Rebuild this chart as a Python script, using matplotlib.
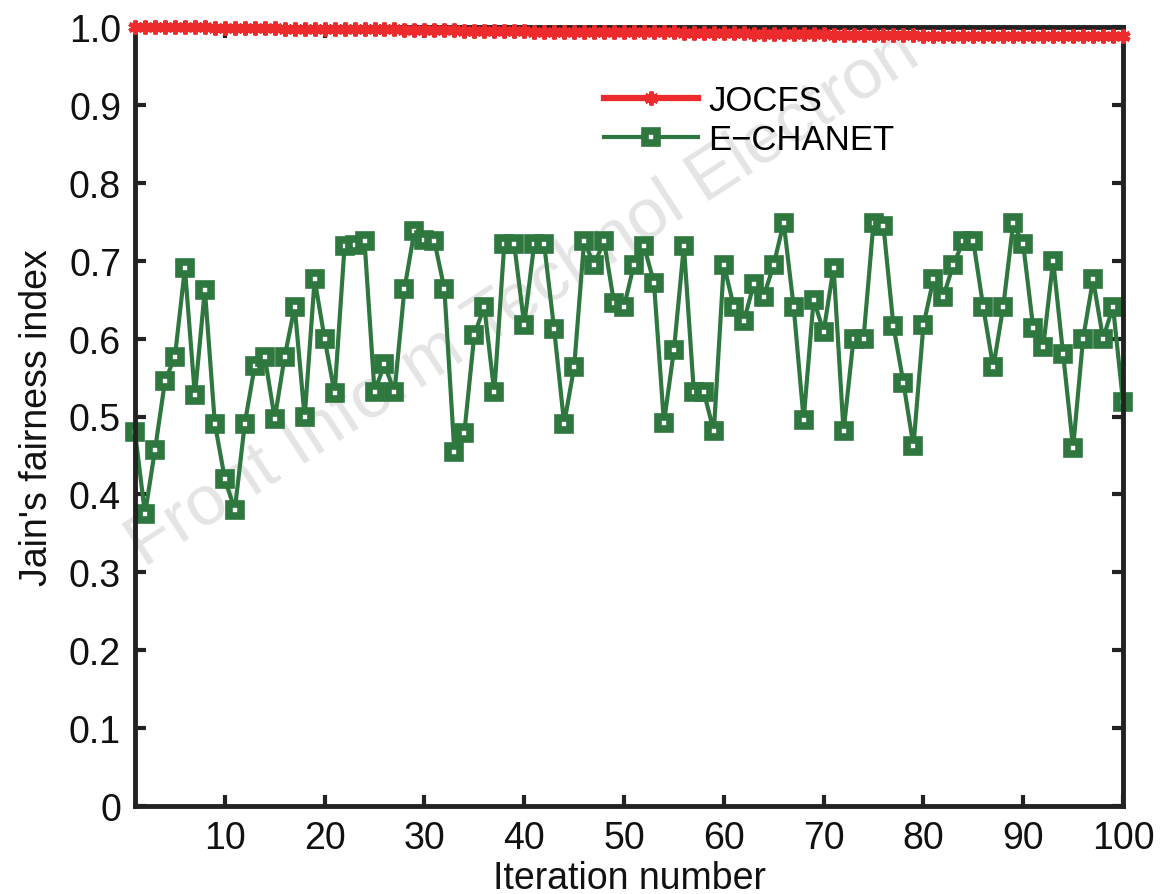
import numpy as np
import matplotlib.pyplot as plt

plt.rcParams['font.family'] = ['Liberation Sans', 'DejaVu Sans']

iterations = np.arange(1, 101)

jocfs = [1.000, 1.000, 1.000, 1.000, 1.000, 1.000, 1.000, 1.000, 0.999, 0.999,
         0.999, 0.999, 0.999, 0.999, 0.999, 0.998, 0.998, 0.998, 0.998, 0.998,
         0.998, 0.997, 0.997, 0.997, 0.997, 0.997, 0.997, 0.996, 0.996, 0.996,
         0.996, 0.996, 0.996, 0.995, 0.995, 0.995, 0.995, 0.995, 0.995, 0.995,
         0.994, 0.994, 0.994, 0.994, 0.994, 0.994, 0.994, 0.993, 0.993, 0.993,
         0.993, 0.993, 0.993, 0.993, 0.993, 0.992, 0.992, 0.992, 0.992, 0.992,
         0.992, 0.992, 0.991, 0.991, 0.991, 0.991, 0.991, 0.991, 0.991, 0.991,
         0.990, 0.990, 0.990, 0.990, 0.990, 0.990, 0.990, 0.990, 0.990, 0.989,
         0.989, 0.989, 0.989, 0.989, 0.989, 0.989, 0.989, 0.989, 0.989, 0.988,
         0.988, 0.988, 0.988, 0.988, 0.988, 0.988, 0.988, 0.988, 0.988, 0.988]

echanet = [0.480, 0.375, 0.457, 0.545, 0.577, 0.690, 0.527, 0.663, 0.491, 0.420,
           0.380, 0.491, 0.565, 0.577, 0.497, 0.577, 0.641, 0.499, 0.676, 0.600,
           0.530, 0.719, 0.720, 0.725, 0.532, 0.567, 0.531, 0.664, 0.738, 0.727,
           0.725, 0.664, 0.455, 0.479, 0.605, 0.641, 0.531, 0.721, 0.721, 0.618,
           0.721, 0.721, 0.612, 0.491, 0.563, 0.725, 0.695, 0.725, 0.646, 0.641,
           0.695, 0.719, 0.672, 0.492, 0.585, 0.719, 0.531, 0.531, 0.481, 0.695,
           0.641, 0.622, 0.670, 0.654, 0.695, 0.749, 0.641, 0.496, 0.650, 0.609,
           0.691, 0.481, 0.600, 0.600, 0.749, 0.744, 0.616, 0.543, 0.462, 0.617,
           0.676, 0.654, 0.695, 0.725, 0.725, 0.640, 0.563, 0.641, 0.748, 0.721,
           0.614, 0.589, 0.700, 0.580, 0.460, 0.600, 0.676, 0.600, 0.641, 0.519]

fig = plt.figure(figsize=(11.63, 8.95), dpi=100)
ax = fig.add_axes([135/1163, 1 - 807/895, (1123 - 135)/1163, (807 - 28)/895])
ax.set_facecolor('none')

# watermark, behind everything
fig.text(0.45, 0.665, 'Front Inform Technol Electron', fontsize=51, color='#e4e4e4',
         rotation=33, ha='center', va='center', zorder=-1)

ax.plot(iterations, jocfs, color='#ED2A2C', lw=4.5, marker=(6, 2, 0),
        ms=10, mew=3, label='JOCFS', clip_on=False, zorder=3)
ax.plot(iterations, echanet, color='#2E773E', lw=3, marker='s', ms=9,
        mew=5.5, mfc='white', label='E\u2212CHANET', clip_on=False, zorder=2)

ax.set_xlim(1, 100)
ax.set_ylim(0, 1.0)
ax.set_xticks(np.arange(10, 101, 10))
ax.set_yticks(np.arange(0, 1.01, 0.1))
ax.set_yticklabels(['0'] + ['%.1f' % v for v in np.arange(0.1, 1.01, 0.1)])
ax.tick_params(direction='in', length=8, width=3, labelsize=27, pad=10,
               right=True, top=True, colors='#222222', labelcolor='#111111')
for s in ax.spines.values():
    s.set_linewidth(3.5)
    s.set_color('#222222')

ax.set_xlabel('Iteration number', fontsize=27, labelpad=3, color='#111111')
ax.set_ylabel("Jain's fairness index", fontsize=27, labelpad=10, color='#111111')

ax.legend(loc='upper left', bbox_to_anchor=(0.443, 0.967), frameon=False,
          fontsize=25, handlelength=2.7, handletextpad=0.3, labelspacing=0.17,
          markerscale=1)

fig.savefig('out.png', dpi=100)
